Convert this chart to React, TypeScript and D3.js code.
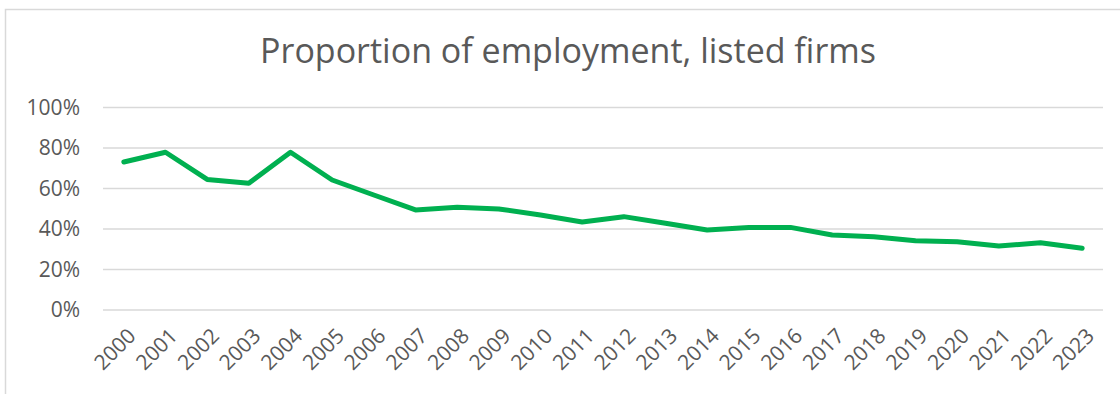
import { useEffect, useRef } from 'react';
import * as d3 from 'd3';

const years = [
  '2000', '2001', '2002', '2003', '2004', '2005', '2006', '2007', '2008', '2009', '2010', '2011',
  '2012', '2013', '2014', '2015', '2016', '2017', '2018', '2019', '2020', '2021', '2022', '2023',
];
const share = [
  0.731, 0.779, 0.645, 0.626, 0.779, 0.642, 0.568, 0.494, 0.507, 0.499, 0.469, 0.435,
  0.461, 0.428, 0.395, 0.408, 0.408, 0.370, 0.362, 0.342, 0.337, 0.316, 0.332, 0.305,
];
const yTicks = [0, 0.2, 0.4, 0.6, 0.8, 1];

export default function App() {
  const svgRef = useRef<SVGSVGElement>(null);
  const width = 1120;
  const height = 394;

  useEffect(() => {
    if (!svgRef.current) return;
    const svg = d3.select(svgRef.current);
    svg.selectAll('*').remove();

    const font = "'Open Sans', sans-serif";
    const grey = '#595959';

    // chart border (cropped on right and bottom)
    svg.append('rect')
      .attr('x', 5.5).attr('y', 9.5)
      .attr('width', 1200).attr('height', 500)
      .attr('fill', '#fff')
      .attr('stroke', '#d9d9d9')
      .attr('stroke-width', 1.5);

    const x = d3.scaleBand<string>().domain(years).range([103, 1103]);
    const y = d3.scaleLinear().domain([0, 1]).range([310, 107.5]);

    svg.append('text')
      .attr('x', 568).attr('y', 63)
      .attr('text-anchor', 'middle')
      .attr('fill', grey)
      .style('font-family', font)
      .style('font-size', '34px')
      .text('Proportion of employment, listed firms');

    // gridlines
    svg.append('g').selectAll('line')
      .data(yTicks)
      .enter().append('line')
      .attr('x1', 103).attr('x2', 1103)
      .attr('y1', d => y(d)).attr('y2', d => y(d))
      .attr('stroke', '#d9d9d9')
      .attr('stroke-width', 1.5);

    svg.append('g').selectAll('text')
      .data(yTicks)
      .enter().append('text')
      .attr('x', 80)
      .attr('y', d => y(d))
      .attr('dy', '0.35em')
      .attr('text-anchor', 'end')
      .attr('fill', grey)
      .style('font-family', font)
      .style('font-size', '21px')
      .text(d => d3.format('.0%')(d));

    const bw = x.bandwidth() / 2;

    svg.append('g').selectAll('text')
      .data(years)
      .enter().append('text')
      .attr('transform', d => `translate(${(x(d) ?? 0) + bw + 8},${332}) rotate(-45)`)
      .attr('dy', '0.35em')
      .attr('text-anchor', 'end')
      .attr('fill', grey)
      .style('font-family', font)
      .style('font-size', '21px')
      .text(d => d);

    const line = d3.line<number>()
      .x((_, i) => (x(years[i]) ?? 0) + bw)
      .y(d => y(d));

    svg.append('path')
      .datum(share)
      .attr('fill', 'none')
      .attr('stroke', '#00b050')
      .attr('stroke-width', 5)
      .attr('stroke-linejoin', 'round')
      .attr('stroke-linecap', 'round')
      .attr('d', line);
  }, []);

  return (
    <svg
      ref={svgRef}
      width={width}
      height={height}
      style={{ position: 'absolute', top: 0, left: 0, background: '#fff' }}
    />
  );
}
